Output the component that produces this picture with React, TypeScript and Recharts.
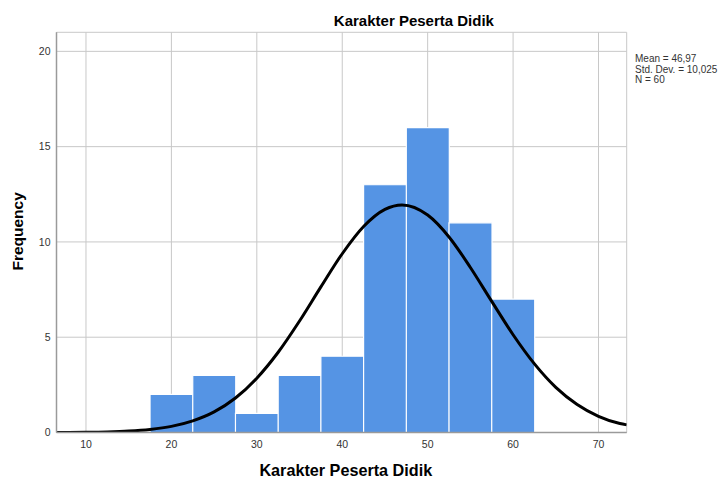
import React from 'react';
import {Bar, CartesianGrid, ComposedChart, Line, XAxis, YAxis} from "recharts";

// histogram bins (centre of each 5-wide bin) and counts
const binCenters = [20, 25, 30, 35, 40, 45, 50, 55, 60];
const binCounts = [2, 3, 1, 3, 4, 13, 16, 11, 7];

// normal curve
const curveX = [6.55, 10, 12.5, 15, 17.5, 20, 22.5, 25, 27.5, 30, 32.5, 35, 37.5, 40, 42.5, 45, 47, 50, 52.5, 55, 57.5, 60, 62.5, 65, 67.5, 70, 72.5, 73.3];
const curveY = [0.004, 0.013, 0.032, 0.074, 0.16, 0.32, 0.61, 1.08, 1.81, 2.85, 4.21, 5.85, 7.64, 9.38, 10.81, 11.71, 11.94, 11.41, 10.26, 8.66, 6.88, 5.13, 3.6, 2.37, 1.47, 0.85, 0.47, 0.4];

const xTicks = [10, 20, 30, 40, 50, 60, 70];
const yTicks = [0, 5, 10, 15, 20];
const statLines = ["Mean = 46,97", "Std. Dev. = 10,025", "N = 60"];

const bins = binCenters.map((x, i) => ({x, count: binCounts[i]}));
const curve = curveX.map((x, i) => ({x, y: curveY[i]}));

const font = "Arial, 'Liberation Sans', sans-serif";
const xDomain: [number, number] = [6.55, 73.3];

function App(): React.ReactElement {
    return (
        <div style={{position: "absolute", left: 0, top: 0, width: 723, height: 479, background: "#fff", fontFamily: font}}>
            <ComposedChart
                width={723}
                height={479}
                data={bins}
                barCategoryGap={0}
                barGap={0}
                margin={{top: 32.3, right: 96.3, left: 6.5, bottom: 16.5}}
            >
                <CartesianGrid stroke="#c8c8c8" strokeWidth={1}/>
                <XAxis
                    dataKey="x"
                    type="number"
                    domain={xDomain}
                    ticks={xTicks}
                    allowDataOverflow
                    height={30}
                    tickSize={0}
                    tickMargin={8}
                    stroke="#9a9a9a"
                    strokeWidth={1.5}
                    tick={{fill: "#333", fontSize: 10.5, fontFamily: font}}
                />
                <XAxis xAxisId="curve" dataKey="x" type="number" domain={xDomain} allowDataOverflow hide/>
                <YAxis
                    domain={[0, 21]}
                    ticks={yTicks}
                    allowDataOverflow
                    width={50}
                    tickSize={0}
                    tickMargin={6}
                    stroke="#9a9a9a"
                    strokeWidth={1.5}
                    tick={{fill: "#333", fontSize: 10.5, fontFamily: font}}
                />
                <Bar dataKey="count" fill="#5594e4" stroke="#ffffff" strokeWidth={1.2} isAnimationActive={false}/>
                <Line
                    xAxisId="curve"
                    data={curve}
                    dataKey="y"
                    type="monotone"
                    stroke="#000"
                    strokeWidth={3}
                    dot={false}
                    activeDot={false}
                    isAnimationActive={false}
                />
            </ComposedChart>
            <svg width={723} height={479} style={{position: "absolute", left: 0, top: 0, pointerEvents: "none"}}>
                <text x={413.9} y={25.7} textAnchor="middle" fontSize={15} fontWeight="bold" fill="#000" fontFamily={font}>
                    Karakter Peserta Didik
                </text>
                <text x={345.8} y={476} textAnchor="middle" fontSize={16.2} fontWeight="bold" fill="#000" fontFamily={font}>
                    Karakter Peserta Didik
                </text>
                <text x={23} y={231.4} textAnchor="middle" fontSize={15.5} fontWeight="bold" fill="#000" fontFamily={font}
                      transform="rotate(-90 23 231.4)">
                    Frequency
                </text>
                {statLines.map((s, i) => (
                    <text key={s} x={635} y={62 + i * 10.5} fontSize={10} fill="#333" fontFamily={font}>{s}</text>
                ))}
            </svg>
        </div>
    );
}

export default App;
